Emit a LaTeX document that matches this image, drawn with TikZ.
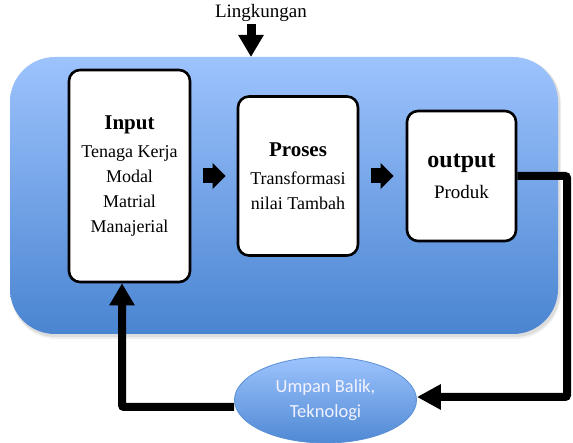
\documentclass[tikz,border=0pt]{standalone}
\usepackage{fontspec}
\setmainfont{Liberation Serif}
\newfontfamily\calib{Carlito}
\usetikzlibrary{shapes.geometric,arrows.meta}
\definecolor{bluetop}{HTML}{9DC3FD}
\definecolor{bluebot}{HTML}{4A85D1}
\definecolor{elbot}{HTML}{4F89D4}
\definecolor{elline}{HTML}{5A8FD6}
\begin{document}
\begin{tikzpicture}[x=1pt,y=-1pt,
  box/.style={draw=black, line width=2.6pt, fill=white, rounded corners=11pt,
    align=center, inner sep=0pt, font=\fontsize{18}{25}\selectfont},
  blockarrow/.style={line width=15pt, -{Triangle[length=13pt,width=25pt]}},
  loopline/.style={line width=8pt, rounded corners=2pt}
]
\useasboundingbox (0,0) rectangle (573,443);
\fill[white] (0,0) rectangle (573,443);
% shadow of the large panel
\fill[black, opacity=0.06, rounded corners=46pt] (11,58) rectangle (561,339);
\fill[black, opacity=0.08, rounded corners=45pt] (11,58) rectangle (560,337);
\shade[top color=bluetop, bottom color=bluebot, rounded corners=45pt] (10,57) rectangle (558,334);

% boxes
\node[box, minimum width=121pt, minimum height=212pt] (in) at (129.5,176)
  {{\fontsize{21}{25}\selectfont\bfseries Input}\\[3pt] Tenaga Kerja\\ Modal\\ Matrial\\ Manajerial};
\node[box, minimum width=120pt, minimum height=159pt] (pr) at (298,176)
  {{\fontsize{21}{25}\selectfont\bfseries Proses}\\[3pt] Transformasi\\ nilai Tambah};
\node[box, minimum width=109pt, minimum height=130pt] (out) at (461.5,176)
  {{\fontsize{24}{25}\selectfont\bfseries output}\\[6pt] {\fontsize{19}{25}\selectfont Produk}};

% environment
\node[font=\fontsize{19}{20}\selectfont, inner sep=2pt] (env) at (261,13) {Lingkungan};
\coordinate (envtip) at (251,57);
\draw[line width=9pt, -{Triangle[length=22pt,width=24pt]}] (envtip |- env.south) -- (envtip);

% block arrows
\draw[blockarrow] ([xshift=12pt]in.east) -- ([xshift=-11pt]pr.west);
\draw[blockarrow] ([xshift=12pt]pr.east) -- ([xshift=-12pt]out.west);

% feedback ellipse
\node[ellipse, draw=elline, line width=0.8pt, top color=bluetop, bottom color=elbot,
  minimum width=182pt, minimum height=86pt, text=white!95!blue, align=center, inner sep=0pt,
  font=\calib\fontsize{18.5}{25}\selectfont] (fb) at (325.5,400) {Umpan Balik,\\Teknologi};

% loop
\coordinate (c1) at (567,176);
\coordinate (c2) at (567,397);
\coordinate (c3) at (122,407);
\draw[loopline, -{Triangle[length=24pt,width=24pt]}] (out.east) -- (c1) -- (c2) -- (c2 -| fb.east);
\draw[loopline, -{Triangle[length=22pt,width=24pt]}] (c3 -| fb.west) -- (c3) -- (c3 |- in.south);
\end{tikzpicture}
\end{document}
